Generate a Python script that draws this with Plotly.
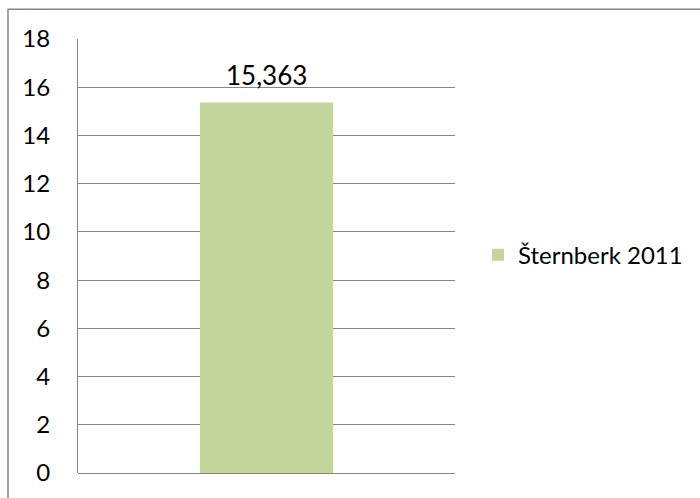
import plotly.graph_objects as go

# Data
categories = ["Šternberk 2011"]
series_name = "Šternberk 2011"
values = [15.363]
y_ticks = [0, 2, 4, 6, 8, 10, 12, 14, 16, 18]

FONT = "Lato"
GRID = "#868686"

fig = go.Figure()
fig.add_trace(go.Bar(
    x=categories,
    y=values,
    name=series_name,
    marker=dict(color="#C3D69B", line=dict(width=0)),
    width=0.353,
    showlegend=True,
    hoverinfo="y",
))

# value label above the bar
for cat, val in zip(categories, values):
    fig.add_annotation(
        x=cat, y=val, xref="x", yref="y",
        text=f"{val:.3f}".replace(".", ","),
        showarrow=False,
        yanchor="bottom",
        yshift=10,
        font=dict(family=FONT, size=26, color="#000000"),
    )

fig.update_layout(
    width=700,
    height=498,
    margin=dict(l=78, r=245, t=39, b=23, pad=0),
    paper_bgcolor="white",
    plot_bgcolor="white",
    separators=", ",
    font=dict(family=FONT, size=24, color="#000000"),
    xaxis=dict(
        showticklabels=False,
        showgrid=False,
        zeroline=False,
        showline=False,
        range=[-0.5, 0.5],
        fixedrange=True,
    ),
    yaxis=dict(
        range=[0, 18],
        tickvals=y_ticks,
        ticktext=[str(v) for v in y_ticks],
        showgrid=True,
        gridcolor=GRID,
        gridwidth=1,
        zeroline=True,
        zerolinecolor=GRID,
        zerolinewidth=1,
        showline=True,
        linecolor=GRID,
        linewidth=1,
        ticks="outside",
        ticklen=22,
        tickcolor="rgba(0,0,0,0)",
        tickfont=dict(family=FONT, size=24, color="#000000"),
    ),
    legend=dict(
        x=1.061,
        xanchor="left",
        y=0.502,
        yanchor="middle",
        font=dict(family=FONT, size=24, color="#000000"),
        bgcolor="rgba(0,0,0,0)",
        itemwidth=30,
    ),
    shapes=[dict(
        type="rect",
        xref="paper", yref="paper",
        x0=-0.1857, x1=1.8, y0=-0.5, y1=1.0688,
        line=dict(color=GRID, width=1.5),
        fillcolor="rgba(0,0,0,0)",
        layer="below",
    )],
)

fig.write_html("out.html")
